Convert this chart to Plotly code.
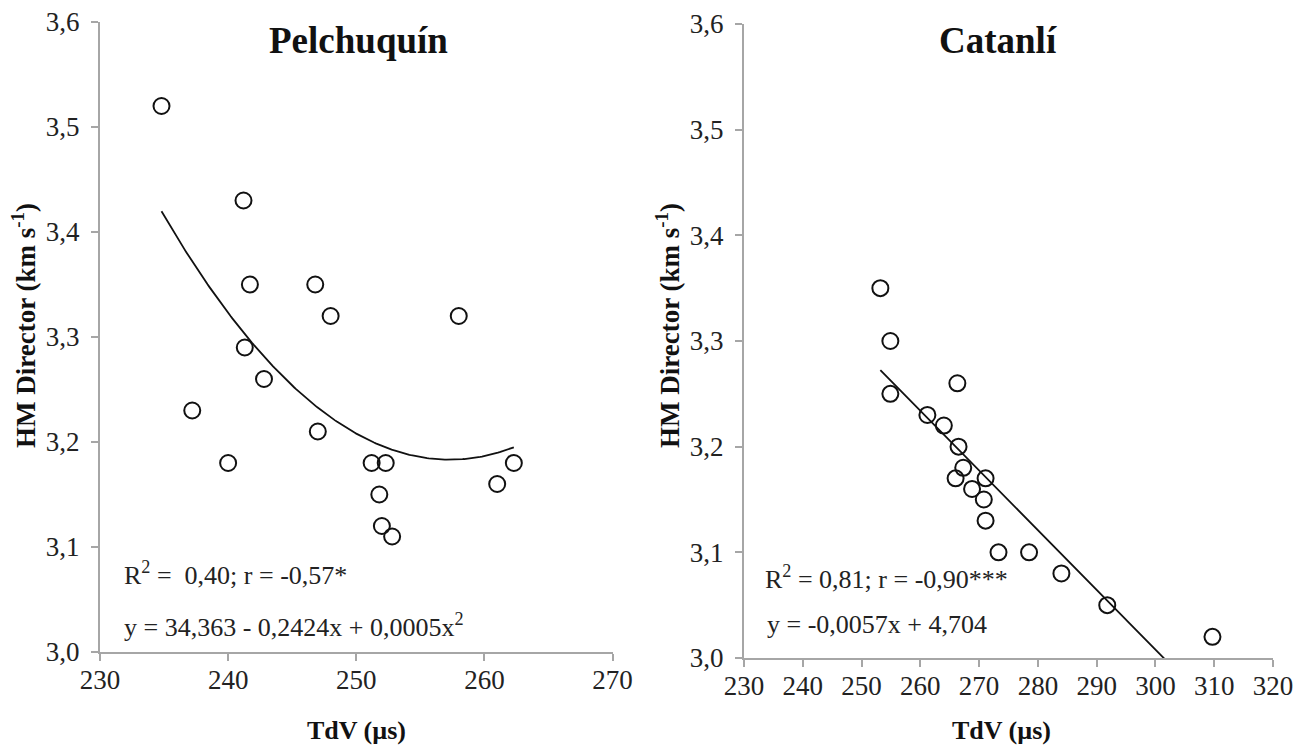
import numpy as np
import plotly.graph_objects as go

# ---- data ----
pel_tdv = [234.8, 241.2, 241.7, 246.8, 248.0, 258.0, 241.3, 242.8, 237.2, 240.0,
           247.0, 251.2, 252.3, 251.8, 252.0, 252.8, 261.0, 262.3]
pel_hm = [3.52, 3.43, 3.35, 3.35, 3.32, 3.32, 3.29, 3.26, 3.23, 3.18,
          3.21, 3.18, 3.18, 3.15, 3.12, 3.11, 3.16, 3.18]

cat_tdv = [253.2, 254.9, 254.9, 266.3, 261.2, 264.0, 266.5, 267.3, 266.0, 271.1,
           268.8, 270.8, 271.1, 273.3, 278.5, 284.0, 291.8, 309.7]
cat_hm = [3.35, 3.30, 3.25, 3.26, 3.23, 3.22, 3.20, 3.18, 3.17, 3.17,
          3.16, 3.15, 3.13, 3.10, 3.10, 3.08, 3.05, 3.02]

titles = ["Pelchuquín", "Catanlí"]
y_ticks = [3.0, 3.1, 3.2, 3.3, 3.4, 3.5, 3.6]
pel_x_ticks = [230, 240, 250, 260, 270]
cat_x_ticks = [230, 240, 250, 260, 270, 280, 290, 300, 310, 320]
pel_stats = "R<sup>2</sup> =  0,40; r = -0,57*"
pel_eq = "y = 34,363 - 0,2424x + 0,0005x<sup>2</sup>"
cat_stats = "R<sup>2</sup> = 0,81; r = -0,90***"
cat_eq = "y = -0,0057x + 4,704"
x_title = "TdV (µs)"
y_title = "HM Director (km s<sup>-1</sup>)"

W, H = 1299, 749
FONT = "Liberation Serif"

# trend fits from the data
p2 = np.polyfit(pel_tdv, pel_hm, 2)
xs_p = np.linspace(min(pel_tdv), max(pel_tdv), 200)
ys_p = np.polyval(p2, xs_p)
p1 = np.polyfit(cat_tdv, cat_hm, 1)
xs_c = np.linspace(min(cat_tdv), max(cat_tdv), 200)
ys_c = np.polyval(p1, xs_c)

fig = go.Figure()
marker = dict(symbol="circle-open", size=16, color="#111", line=dict(width=2, color="#111"))
fig.add_trace(go.Scatter(x=pel_tdv, y=pel_hm, mode="markers", marker=marker,
                         xaxis="x", yaxis="y", showlegend=False))
fig.add_trace(go.Scatter(x=xs_p, y=ys_p, mode="lines", line=dict(color="#111", width=1.8),
                         xaxis="x", yaxis="y", showlegend=False))
fig.add_trace(go.Scatter(x=cat_tdv, y=cat_hm, mode="markers", marker=marker,
                         xaxis="x2", yaxis="y2", showlegend=False))
fig.add_trace(go.Scatter(x=xs_c, y=ys_c, mode="lines", line=dict(color="#111", width=1.8),
                         xaxis="x2", yaxis="y2", showlegend=False))

def px(x):
    return x / W

def py(y):
    return 1 - y / H

axis_common = dict(showgrid=False, zeroline=False, showline=True, linecolor="#a6a6a6",
                   linewidth=2, ticks="outside", tickcolor="#a6a6a6", ticklen=7,
                   tickwidth=2, tickfont=dict(family=FONT, size=27, color="#222"))

fig.update_layout(
    width=W, height=H, margin=dict(l=0, r=0, t=0, b=0, autoexpand=False),
    paper_bgcolor="white", plot_bgcolor="white", separators=", ",
    xaxis=dict(domain=[px(100), px(612.5)], range=[230, 270], tickvals=pel_x_ticks,
               anchor="y", ticklabelstandoff=-4, **axis_common),
    yaxis=dict(domain=[py(652), py(22)], range=[3.0, 3.6], tickvals=y_ticks,
               tickformat=".1f", anchor="x", ticklabelstandoff=6, **axis_common),
    xaxis2=dict(domain=[px(744), px(1273)], range=[230, 320], tickvals=cat_x_ticks,
                anchor="y2", ticklabelstandoff=-4, **axis_common),
    yaxis2=dict(domain=[py(658), py(24)], range=[3.0, 3.6], tickvals=y_ticks,
                tickformat=".1f", anchor="x2", ticklabelstandoff=6, **axis_common),
)

ann = []
center = dict(xref="paper", yref="paper", xanchor="center", yanchor="middle", showarrow=False)
# panel titles
ann.append(dict(text="<b>%s</b>" % titles[0], x=px(358), y=py(41),
                font=dict(family=FONT, size=37, color="#111"), **center))
ann.append(dict(text="<b>%s</b>" % titles[1], x=px(998), y=py(41),
                font=dict(family=FONT, size=37, color="#111"), **center))
# axis titles
for cx in (356, 1001):
    ann.append(dict(text="<b>%s</b>" % x_title, x=px(cx), y=py(730),
                    font=dict(family=FONT, size=26, color="#111"), **center))
for cx in (24, 668):
    ann.append(dict(text="<b>%s</b>" % y_title, x=px(cx), y=py(326), textangle=-90,
                    font=dict(family=FONT, size=27, color="#111"), **center))
# stats
stat_font = dict(family=FONT, size=26, color="#222")
ann.append(dict(text=pel_stats, x=231.7, y=3.075, xref="x", yref="y", xanchor="left",
                yanchor="middle", showarrow=False, font=stat_font))
ann.append(dict(text=pel_eq, x=231.7, y=3.025, xref="x", yref="y", xanchor="left",
                yanchor="middle", showarrow=False, font=stat_font))
ann.append(dict(text=cat_stats, x=233.3, y=3.076, xref="x2", yref="y2", xanchor="left",
                yanchor="middle", showarrow=False, font=stat_font))
ann.append(dict(text=cat_eq, x=233.5, y=3.032, xref="x2", yref="y2", xanchor="left",
                yanchor="middle", showarrow=False, font=stat_font))
fig.update_layout(annotations=ann)

fig.write_html("out.html", config={"displayModeBar": False},
               post_script="document.body.style.margin='0';")
